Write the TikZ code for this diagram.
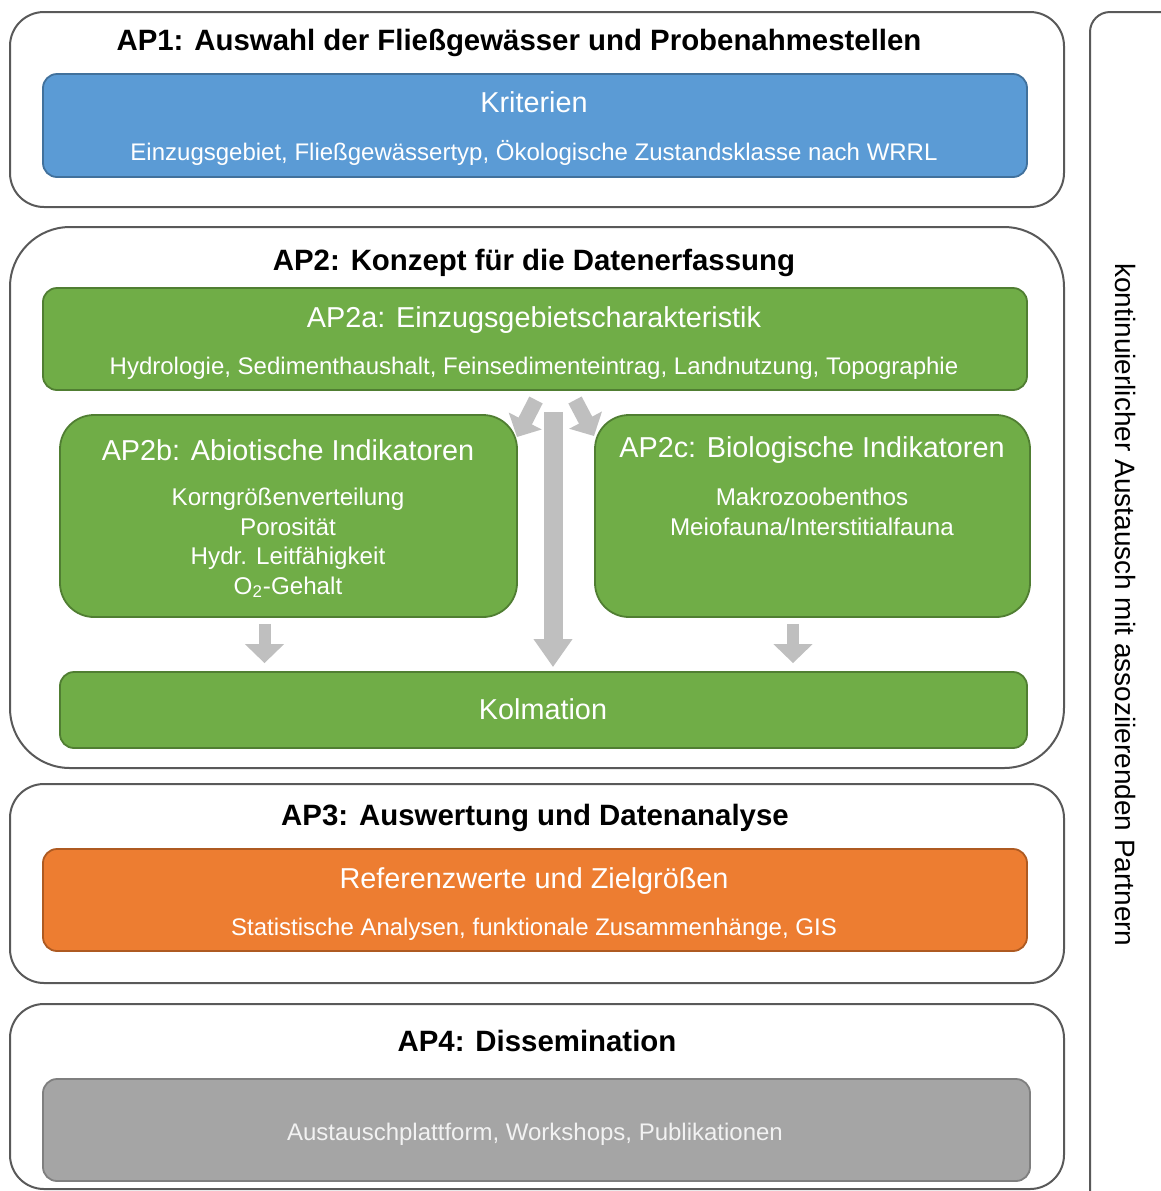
\documentclass[tikz,border=0pt]{standalone}
\usepackage{fontspec}
\setmainfont{Liberation Sans}
\usetikzlibrary{fit,arrows.meta}

\definecolor{framegray}{HTML}{595959}
\definecolor{apblue}{HTML}{5B9BD5}
\definecolor{apblueline}{HTML}{41719C}
\definecolor{apgreen}{HTML}{70AD47}
\definecolor{apgreenline}{HTML}{507E32}
\definecolor{aporange}{HTML}{ED7D31}
\definecolor{aporangeline}{HTML}{AE5A21}
\definecolor{apgray}{HTML}{A5A5A5}
\definecolor{apgrayline}{HTML}{7F7F7F}
\definecolor{arrowgray}{HTML}{BFBFBF}

\begin{document}
\begin{tikzpicture}[x=0.5pt,y=-0.5pt,
    frame/.style={draw=framegray, line width=1pt, rounded corners=17pt, inner sep=0pt},
    card/.style={line width=0.9pt, rounded corners=7pt, inner sep=0pt},
    bluecard/.style={card, fill=apblue, draw=apblueline},
    greencard/.style={card, fill=apgreen, draw=apgreenline},
    orangecard/.style={card, fill=aporange, draw=aporangeline},
    graycard/.style={card, fill=apgray, draw=apgrayline},
    aptitle/.style={anchor=mid, inner sep=0pt, font=\bfseries\fontsize{14.7}{17}\selectfont},
    cardtitle/.style={anchor=mid, inner sep=0pt, text=white, font=\fontsize{14.4}{17}\selectfont},
    cardtext/.style={anchor=mid, inner sep=0pt, text=white, font=\fontsize{12}{14}\selectfont},
    cardlines/.style={inner sep=0pt, text=white, align=center, font=\fontsize{12.1}{14.7}\selectfont},
    fatarrow/.style={draw=arrowgray, line width=6pt, -{Triangle[width=19pt,length=9.5pt]}}]

    \clip (0,0) rectangle (1161,1191);

    % work package frames
    \node[frame, fit={(10,12) (1064,207)}] (ap1) {};
    \node[frame, rounded corners=30pt, fit={(10,227) (1064,768)}] (ap2) {};
    \node[frame, fit={(10,784) (1064,983)}] (ap3) {};
    \node[frame, fit={(10,1004) (1064,1189)}] (ap4) {};
    \node[frame, rounded corners=10pt, fit={(1090,12) (1220,1230)}] (partner) {};

    % AP1
    \node[aptitle] (ap1title) at (519,45) {AP1: Auswahl der Fließgewässer und Probenahmestellen};
    \node[bluecard, fit={(43,74) (1027,177)}] (krit) {};
    \node[cardtitle] (krittitle) at (534,107) {Kriterien};
    \node[cardtext] (krittext) at (534,155) {Einzugsgebiet, Fließgewässertyp, Ökologische Zustandsklasse nach WRRL};

    % AP2
    \node[aptitle] (ap2title) at (534,265) {AP2: Konzept für die Datenerfassung};
    \node[greencard, fit={(43,288) (1027,390)}] (ap2a) {};
    \node[cardtitle] (ap2atitle) at (534,322) {AP2a: Einzugsgebietscharakteristik};
    \node[cardtext] (ap2atext) at (534,369) {Hydrologie, Sedimenthaushalt, Feinsedimenteintrag, Landnutzung, Topographie};
    \node[greencard, rounded corners=17pt, fit={(60,415) (517,617)}] (ap2b) {};
    \node[cardtitle] (ap2btitle) at (288,455) {AP2b: Abiotische Indikatoren};
    \node[cardlines] (ap2btext) at (288,543) {Korngrößenverteilung\\Porosität\\Hydr. Leitfähigkeit\\O\textsubscript{2}-Gehalt};
    \node[greencard, rounded corners=17pt, fit={(595,415) (1030,617)}] (ap2c) {};
    \node[cardtitle] (ap2ctitle) at (812,452) {AP2c: Biologische Indikatoren};
    \node[cardlines] (ap2ctext) at (812,512) {Makrozoobenthos\\Meiofauna/Interstitialfauna};
    \node[greencard, fit={(60,672) (1027,748)}] (kolm) {};
    \node[cardtitle] (kolmtitle) at (543,714) {Kolmation};

    \coordinate (dlstart) at (536,400);
    \coordinate (dlend) at (517,437);
    \coordinate (drstart) at (575,400);
    \coordinate (drend) at (594,436);
    \draw[fatarrow, line width=7.5pt, -{Triangle[width=18pt,length=9pt]}] (dlstart) -- (dlend);
    \draw[fatarrow, line width=7.5pt, -{Triangle[width=18pt,length=9pt]}] (drstart) -- (drend);
    \draw[fatarrow, line width=9.5pt, -{Triangle[width=18.5pt,length=14pt]}, shorten <=10.5pt, shorten >=2pt]
        ([xshift=9pt]ap2a.south) -- ([xshift=9pt]ap2a.south |- kolm.north);
    \draw[fatarrow, shorten <=3pt, shorten >=4pt] ([xshift=-12pt]ap2b.south) -- ([xshift=-12pt]ap2b.south |- kolm.north);
    \draw[fatarrow, shorten <=3pt, shorten >=4pt] ([xshift=-9.75pt]ap2c.south) -- ([xshift=-9.75pt]ap2c.south |- kolm.north);

    % AP3
    \node[aptitle] (ap3title) at (535,820) {AP3: Auswertung und Datenanalyse};
    \node[orangecard, fit={(43,849) (1027,951)}] (ref) {};
    \node[cardtitle] (reftitle) at (534,883) {Referenzwerte und Zielgrößen};
    \node[cardtext] (reftext) at (534,930) {Statistische Analysen, funktionale Zusammenhänge, GIS};

    % AP4
    \node[aptitle] (ap4title) at (537,1046) {AP4: Dissemination};
    \node[graycard, fit={(43,1079) (1030,1181)}] (diss) {};
    \node[cardtext, text=white!95!black] (disstext) at (535,1135) {Austauschplattform, Workshops, Publikationen};

    % partners
    \node[inner sep=0pt, rotate=-90, font=\fontsize{14}{16}\selectfont] (partnertext) at (1126,605) {kontinuierlicher Austausch mit assoziierenden Partnern};
\end{tikzpicture}
\end{document}
